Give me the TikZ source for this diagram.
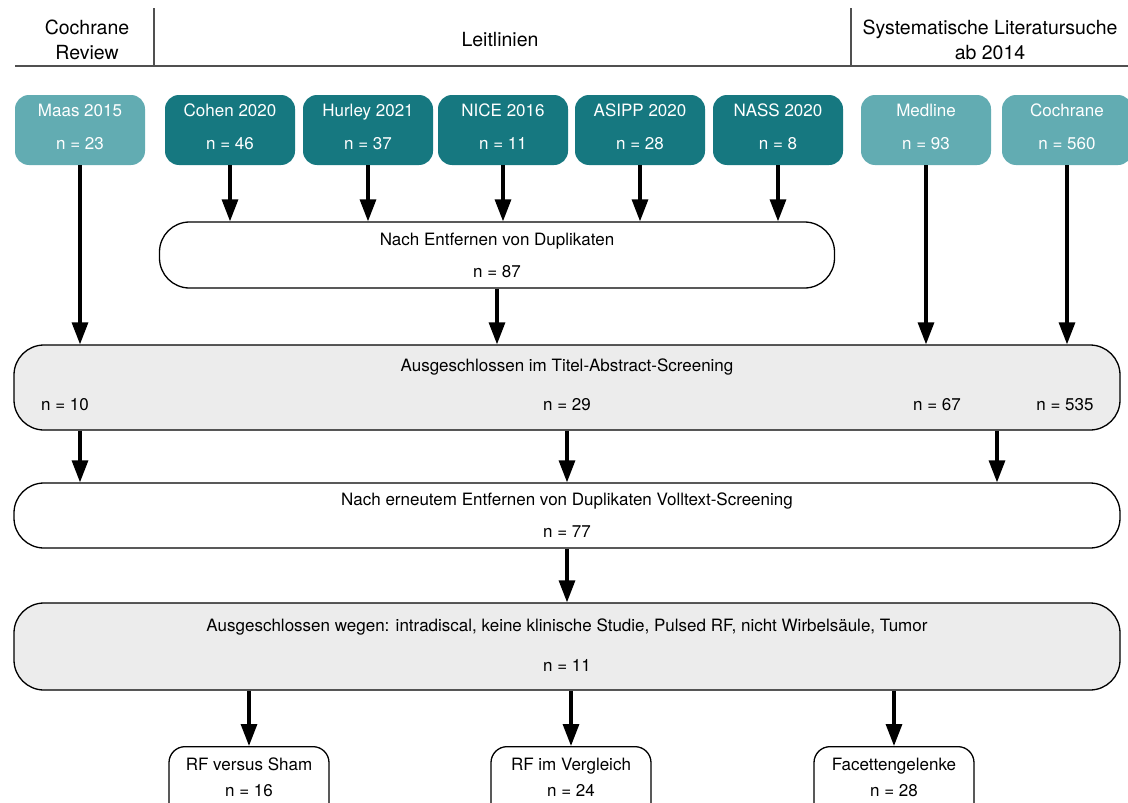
\documentclass[tikz,border=0pt]{standalone}
\usepackage{fontspec}
\setmainfont{TeX Gyre Heros}
\usetikzlibrary{arrows.meta}
\definecolor{tealdark}{RGB}{22,120,128}
\definecolor{teallight}{RGB}{98,172,178}
\definecolor{boxgray}{RGB}{236,236,236}
\definecolor{hdrline}{RGB}{80,80,80}
\begin{document}
\begin{tikzpicture}[x=1pt,y=-1pt,
  src/.style={rectangle, rounded corners=14pt, draw=none, text=white,
    minimum width=130pt, minimum height=70pt, align=center, inner sep=0pt,
    text depth=6pt, font=\fontsize{17}{33}\selectfont},
  wbox/.style={rectangle, rounded corners=30pt, draw=black, line width=1.3pt,
    fill=white, align=center, inner sep=0pt, font=\fontsize{17}{32}\selectfont},
  gbox/.style={wbox, fill=boxgray},
  leaf/.style={rectangle, rounded corners=16pt, draw=black, line width=1.3pt,
    fill=white, minimum width=160pt, minimum height=90pt, anchor=north},
  txt/.style={inner sep=0pt, anchor=base, font=\fontsize{17}{20}\selectfont},
  hdr/.style={align=center, inner sep=0pt, font=\fontsize{19.5}{25}\selectfont},
  arr/.style={line width=3.2pt, -{Triangle[width=16pt,length=22pt]}}
]
\useasboundingbox (0,0) rectangle (1128,803);
\clip (0,0) rectangle (1128,803);
\fill[white] (0,0) rectangle (1128,803);

% header
\node[hdr] (hcr) at (87,40) {Cochrane\\Review};
\node[hdr] (hll) at (500,40) {Leitlinien};
\node[hdr] (hsl) at (990,40) {Systematische Literatursuche\\ab 2014};
\coordinate (hl1) at (15,66);
\coordinate (hl2) at (1128,66);
\coordinate (v1a) at (154,8);
\coordinate (v1b) at (154,66);
\coordinate (v2a) at (851,8);
\coordinate (v2b) at (851,66);
\draw[hdrline, line width=1.6pt] (hl1) -- (hl2);
\draw[hdrline, line width=1.3pt] (v1a) -- (v1b);
\draw[hdrline, line width=1.3pt] (v2a) -- (v2b);

% source boxes
\node[src, fill=teallight] (maas) at (80,130) {Maas 2015\\n = 23};
\node[src, fill=tealdark] (cohen) at (230,130) {Cohen 2020\\n = 46};
\node[src, fill=tealdark] (hurley) at (368,130) {Hurley 2021\\n = 37};
\node[src, fill=tealdark] (nice) at (503,130) {NICE 2016\\n = 11};
\node[src, fill=tealdark] (asipp) at (640,130) {ASIPP 2020\\n = 28};
\node[src, fill=tealdark] (nass) at (778,130) {NASS 2020\\n = 8};
\node[src, fill=teallight] (medline) at (926,130) {Medline\\n = 93};
\node[src, fill=teallight] (cochrane) at (1067,130) {Cochrane\\n = 560};

% duplicates
\node[wbox, minimum width=675pt, minimum height=66pt] (dup) at (497,255)
  {Nach Entfernen von Duplikaten\\n = 87};

% title abstract screening
\node[gbox, minimum width=1106pt, minimum height=85pt] (tiab) at (567,387.5) {};
\node[txt] (tiabt) at (567,371) {Ausgeschlossen im Titel-Abstract-Screening};
\node[txt] (tiab1) at (65,410) {n = 10};
\node[txt] (tiab2) at (567,410) {n = 29};
\node[txt] (tiab3) at (937,410) {n = 67};
\node[txt] (tiab4) at (1065,410) {n = 535};

% full text
\node[wbox, minimum width=1106pt, minimum height=65pt] (full) at (567,515.5)
  {Nach erneutem Entfernen von Duplikaten Volltext-Screening\\n = 77};

% excluded
\node[gbox, minimum width=1106pt, minimum height=87pt] (excl) at (567,646.5) {};
\node[txt] (exclt) at (567,631) {Ausgeschlossen wegen: intradiscal, keine klinische Studie, Pulsed RF, nicht Wirbelsäule, Tumor};
\node[txt] (excln) at (567,671) {n = 11};

% leaves
\node[leaf] (rfs) at (249,746) {};
\node[txt] (rfst) at (249,770) {RF versus Sham};
\node[txt] (rfsn) at (249,796) {n = 16};
\node[leaf] (rfv) at (571,746) {};
\node[txt] (rfvt) at (571,770) {RF im Vergleich};
\node[txt] (rfvn) at (571,796) {n = 24};
\node[leaf] (fac) at (894,746) {};
\node[txt] (fact) at (894,770) {Facettengelenke};
\node[txt] (facn) at (894,796) {n = 28};

% arrows
\draw[arr] (maas.south) -- (maas.south |- tiab.north);
\foreach \s in {cohen,hurley,nice,asipp,nass}
  \draw[arr] (\s.south) -- (\s.south |- dup.north);
\draw[arr] (dup.south) -- (dup.south |- tiab.north);
\draw[arr] (medline.south) -- (medline.south |- tiab.north);
\draw[arr] (cochrane.south) -- (cochrane.south |- tiab.north);
\coordinate (c997) at (997,0);
\draw[arr] (tiab.south -| maas) -- (full.north -| maas);
\draw[arr] (tiab.south) -- (full.north);
\draw[arr] (tiab.south -| c997) -- (full.north -| c997);
\draw[arr] (full.south) -- (excl.north);
\draw[arr] (excl.south -| rfs.north) -- (rfs.north);
\draw[arr] (excl.south -| rfv.north) -- (rfv.north);
\draw[arr] (excl.south -| fac.north) -- (fac.north);
\end{tikzpicture}
\end{document}
